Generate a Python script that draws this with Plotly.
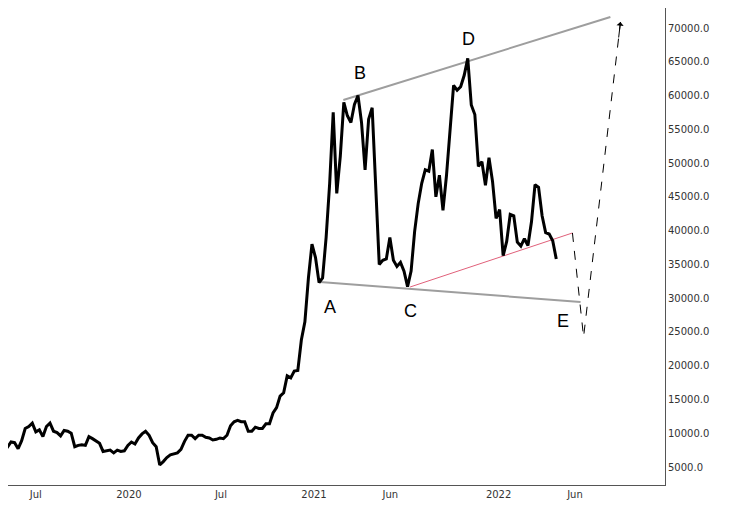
import plotly.graph_objects as go
import pandas as pd

# weekly closes, starting week of 2019-04-22
prices = [
    5300, 5700, 7200, 8000, 8700, 8600, 7700, 8900, 10700, 11000, 11500, 10200, 10500, 9500,
    11000, 11500, 10300, 10100, 9600, 10400, 10300, 10000, 8000, 8200, 8300, 8200, 9500, 9200,
    8800, 8500, 7300, 7400, 7500, 7100, 7500, 7300, 7400,
    8200, 8700, 8400, 9300, 9900, 10300, 9700, 8600, 8000, 5300, 5800, 6400, 6800, 6900, 7100,
    7600, 8800, 9700, 9700, 9200, 9700, 9700, 9400, 9300, 9000, 9100, 9300, 9200, 9700, 11100,
    11700, 11900, 11700, 11700, 10300, 10300, 10900, 10700, 10700, 11400, 11400, 13000, 13800,
    15500, 16000, 18500, 18200, 19200, 19300, 23800, 26500, 33000,
    38000, 36000, 32300, 33000, 39000, 47000, 57500, 45500, 51000, 59000, 57000, 56000, 58700,
    60000, 56000, 49000, 56500, 58200, 46500, 35000, 35600, 35800, 39000, 35600, 34700, 35300,
    34000, 31700, 34000, 39900, 44000, 47000, 49000, 48800, 52000, 45000, 48200, 43000, 48200,
    54900, 61500, 60800, 61300, 63000, 65500, 58600, 57200, 49500, 50200, 46700, 50800, 47300,
    41800, 43100, 36300, 38400, 42400, 42200, 38300, 37700, 38800, 37800, 41300, 46800, 46400,
    42200, 39700, 39500, 38500, 35800,
]
dates = pd.date_range("2019-04-15", periods=len(prices), freq="W-MON")

upper_x = ["2021-02-28", "2022-08-10"]
upper_y = [59340, 71630]
lower_x = ["2021-01-13", "2022-06-12"]
lower_y = [32390, 29430]
red_x = ["2021-07-10", "2022-05-27"]
red_y = [31650, 39650]
proj_x = ["2022-05-27", "2022-06-18", "2022-08-30"]
proj_y = [39650, 24250, 70890]

labels = ["A", "B", "C", "D", "E"]
label_x = ["2021-02-02", "2021-04-02", "2021-07-10", "2021-11-02", "2022-05-09"]
label_y = [28690, 63330, 28100, 68370, 26620]

fig = go.Figure()
fig.add_trace(go.Scatter(x=upper_x, y=upper_y, mode="lines", line=dict(color="#9e9e9e", width=2)))
fig.add_trace(go.Scatter(x=lower_x, y=lower_y, mode="lines", line=dict(color="#9e9e9e", width=2)))
fig.add_trace(go.Scatter(x=red_x, y=red_y, mode="lines", line=dict(color="#e0607a", width=1)))
fig.add_trace(go.Scatter(x=proj_x, y=proj_y, mode="lines",
                         line=dict(color="black", width=1, dash="dash")))
fig.add_trace(go.Scatter(x=dates, y=prices, mode="lines", line=dict(color="black", width=3)))

for t, lx, ly in zip(labels, label_x, label_y):
    fig.add_annotation(x=lx, y=ly, text=t, showarrow=False,
                       font=dict(family="Arial", size=18, color="black"))

# arrowhead at the end of the projection
fig.add_annotation(x=proj_x[-1], y=proj_y[-1], text="", showarrow=True, arrowhead=1,
                   arrowsize=1.2, arrowwidth=1, arrowcolor="black", ax=-2, ay=17)

tick_dates = ["2019-07-01", "2020-01-01", "2020-07-01", "2021-01-01", "2021-06-01",
              "2022-01-01", "2022-06-01"]
tick_text = ["Jul", "2020", "Jul", "2021", "Jun", "2022", "Jun"]

fig.update_layout(
    width=726, height=501, showlegend=False,
    plot_bgcolor="white", paper_bgcolor="white",
    margin=dict(l=0, r=69, t=0, b=24),
    xaxis=dict(range=["2019-05-07", "2022-11-26"], tickvals=tick_dates, ticktext=tick_text,
               showgrid=False, zeroline=False, showline=True, linecolor="#555", linewidth=1,
               tickfont=dict(family="Verdana, DejaVu Sans", size=10, color="#333")),
    yaxis=dict(side="right", range=[2335, 72962], dtick=5000, tick0=0, tickformat=".1f",
               showgrid=False, zeroline=False, showline=True, linecolor="#555", linewidth=1,
               ticks="", tickfont=dict(family="Verdana, DejaVu Sans", size=10, color="#333")),
)

fig.write_html("out.html")
